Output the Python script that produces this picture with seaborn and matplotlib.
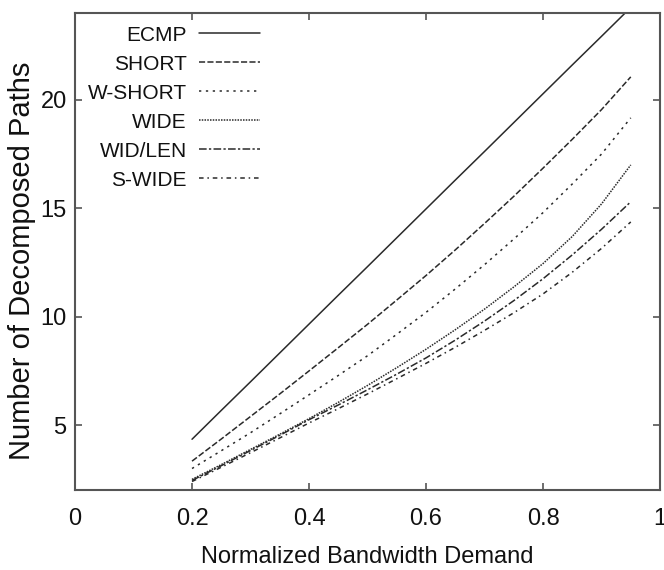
import matplotlib
matplotlib.use("Agg")
import matplotlib.pyplot as plt
import seaborn as sns
import pandas as pd

x_vals = [0.2, 0.25, 0.3, 0.35, 0.4, 0.45, 0.5, 0.55, 0.6, 0.65, 0.7, 0.75, 0.8, 0.85, 0.9, 0.95]
ecmp = [4.35, 5.68, 7.0, 8.33, 9.66, 10.99, 12.31, 13.64, 14.97, 16.3, 17.62, 18.95, 20.28, 21.61, 22.93, 24.26]
short = [3.34, 4.36, 5.4, 6.44, 7.5, 8.57, 9.65, 10.77, 11.9, 13.08, 14.3, 15.55, 16.85, 18.18, 19.55, 21.06]
w_short = [3.0, 3.82, 4.65, 5.52, 6.4, 7.29, 8.2, 9.19, 10.2, 11.28, 12.4, 13.58, 14.8, 16.12, 17.5, 19.17]
wide = [2.5, 3.18, 3.88, 4.58, 5.3, 6.05, 6.83, 7.65, 8.5, 9.4, 10.35, 11.37, 12.45, 13.7, 15.2, 17.0]
wid_len = [2.45, 3.13, 3.83, 4.53, 5.25, 5.93, 6.63, 7.35, 8.1, 8.92, 9.8, 10.74, 11.75, 12.85, 14.03, 15.3]
s_wide = [2.4, 3.06, 3.73, 4.41, 5.1, 5.76, 6.44, 7.14, 7.85, 8.59, 9.37, 10.18, 11.05, 12.05, 13.15, 14.37]

series_names = ["ECMP", "SHORT", "W-SHORT", "WIDE", "WID/LEN", "S-WIDE"]
series_vals = [ecmp, short, w_short, wide, wid_len, s_wide]

x_ticks = [0, 0.2, 0.4, 0.6, 0.8, 1.0]
x_tick_labels = ["0", "0.2", "0.4", "0.6", "0.8", "1"]
y_ticks = [5, 10, 15, 20]

rows = []
for name, vals in zip(series_names, series_vals):
    for xv, yv in zip(x_vals, vals):
        rows.append({"x": xv, "y": yv, "series": name})
df = pd.DataFrame(rows)

sns.set_theme(style="white")
plt.rcParams["font.family"] = ["Liberation Sans", "DejaVu Sans"]

fig = plt.figure(figsize=(6.64, 5.70), dpi=100)
ax = fig.add_axes([0.113, 0.14, 0.881, 0.837])

line_color = "#2a2a2a"
palette = {n: line_color for n in series_names}
dashes = {
    "ECMP": "",
    "SHORT": (4, 1.5),
    "W-SHORT": (1.5, 3),
    "WIDE": (1, 0.8),
    "WID/LEN": (5, 1.5, 1.5, 1.5),
    "S-WIDE": (3, 2.5, 1, 2.5),
}
sns.lineplot(data=df, x="x", y="y", hue="series", style="series",
             hue_order=series_names, style_order=series_names,
             palette=palette, dashes=dashes, linewidth=1.1, ax=ax,
             legend=True)

ax.set_xlim(0, 1)
ax.set_ylim(2, 24)
ax.set_xticks(x_ticks)
ax.set_xticklabels(x_tick_labels)
ax.set_yticks(y_ticks)
ax.tick_params(direction="in", length=5, width=1.2, color="#555555",
               top=True, right=True, bottom=True, left=True,
               labelsize=17, labelcolor="#111111")
ax.tick_params(axis="x", pad=13)
ax.tick_params(axis="y", pad=6)
for s in ax.spines.values():
    s.set_color("#555555")
    s.set_linewidth(1.5)

ax.set_xlabel("Normalized Bandwidth Demand", fontsize=17, color="#111111")
ax.xaxis.set_label_coords(0.5, -0.118)
ax.set_ylabel("Number of Decomposed Paths", fontsize=21, color="#111111")
ax.yaxis.set_label_coords(-0.066, 0.48)

leg = ax.legend(loc="upper left", frameon=False,
                markerfirst=False, fontsize=15, handlelength=2.9,
                labelspacing=0.48, borderaxespad=0.4, borderpad=0.2,
                handletextpad=0.6)
for t in leg.get_texts():
    t.set_color("#111111")

fig.savefig("out.png", dpi=100)
